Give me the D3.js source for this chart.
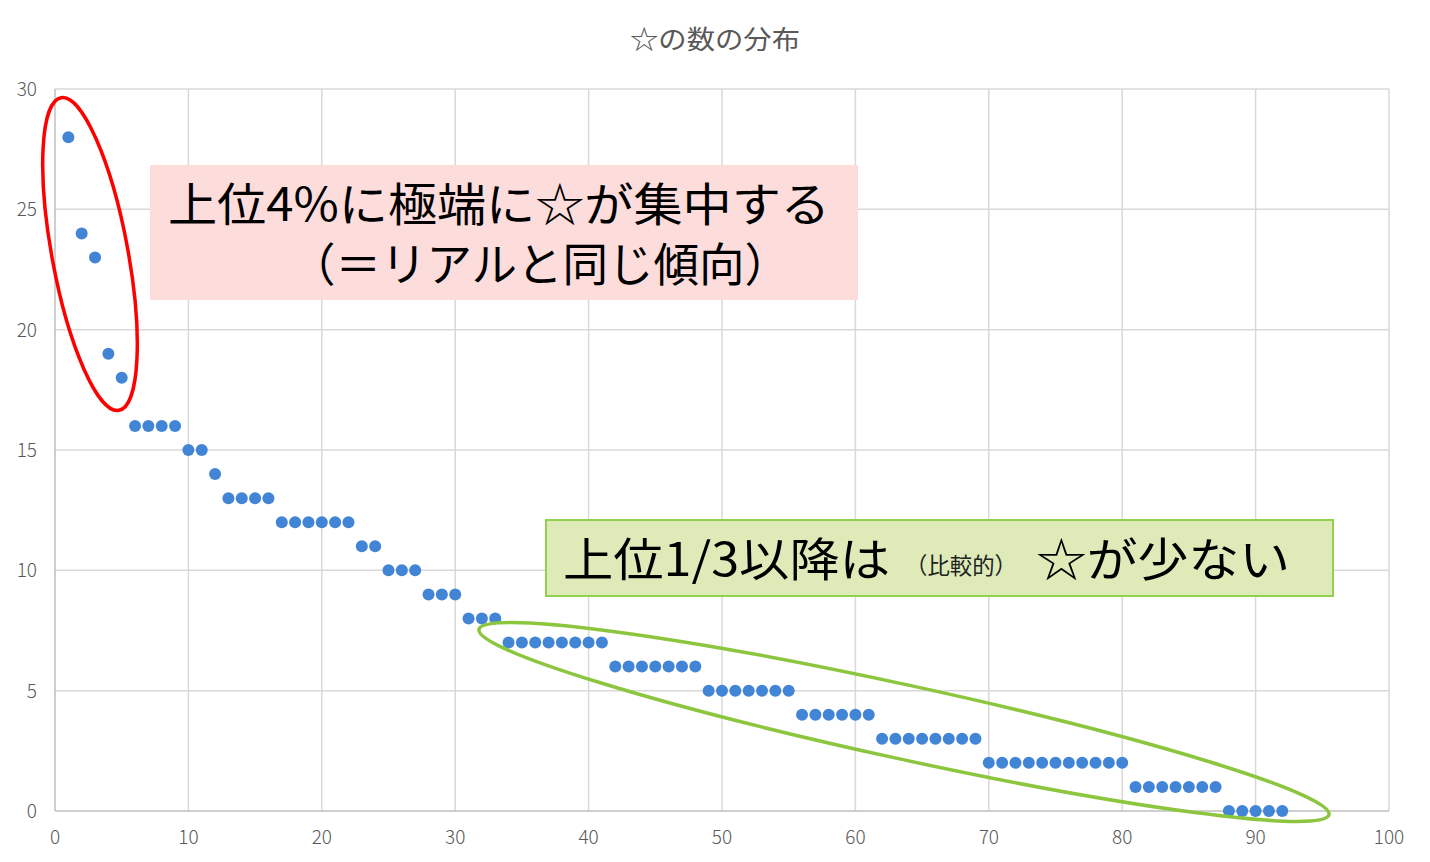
<!DOCTYPE html>
<html><head><meta charset="utf-8">
<script src="https://cdn.jsdelivr.net/npm/d3@7"></script>
<style>
body{margin:0;background:#fff;}
svg{display:block;font-family:"Noto Sans CJK JP","Noto Sans",sans-serif;}
</style></head>
<body>
<svg id="c" width="1430" height="862"></svg>
<script>
const ranks = d3.range(1, 93);
const stars = [28,24,23,19,18,16,16,16,16,15,15,14,13,13,13,13,12,12,12,12,12,12,11,11,10,10,10,9,9,9,8,8,8,
  7,7,7,7,7,7,7,7,6,6,6,6,6,6,6,5,5,5,5,5,5,5,4,4,4,4,4,4,3,3,3,3,3,3,3,3,
  2,2,2,2,2,2,2,2,2,2,2,1,1,1,1,1,1,1,0,0,0,0,0];
const xTicks = [0,10,20,30,40,50,60,70,80,90,100];
const yTicks = [0,5,10,15,20,25,30];
const title = "☆の数の分布";
const note1 = ["上位4%に極端に☆が集中する", "（＝リアルと同じ傾向）"];
const note2 = ["上位1/3以降は", "（比較的）", "☆が少ない"];

const svg = d3.select("#c");
const L=55, R=1389, T=89, B=811;
const x = d3.scaleLinear().domain([0,100]).range([L,R]);
const y = d3.scaleLinear().domain([0,30]).range([B,T]);

svg.append("text").attr("x",630).attr("y",49)
  .attr("font-size",26).attr("fill","#595959")
  .attr("textLength",170).attr("lengthAdjust","spacingAndGlyphs").text(title);

const g = svg.append("g");
g.selectAll(".vg").data(xTicks.slice(1)).join("line")
  .attr("x1",d=>x(d)).attr("x2",d=>x(d)).attr("y1",T).attr("y2",B)
  .attr("stroke","#d9d9d9").attr("stroke-width",1.5);
g.selectAll(".hg").data(yTicks.slice(1)).join("line")
  .attr("x1",L).attr("x2",R).attr("y1",d=>y(d)).attr("y2",d=>y(d))
  .attr("stroke","#d9d9d9").attr("stroke-width",1.5);
g.append("line").attr("x1",L).attr("x2",L).attr("y1",T).attr("y2",B).attr("stroke","#bfbfbf").attr("stroke-width",1.5);
g.append("line").attr("x1",L).attr("x2",R).attr("y1",B).attr("y2",B).attr("stroke","#bfbfbf").attr("stroke-width",1.5);

svg.selectAll(".yl").data(yTicks).join("text")
  .attr("x",37).attr("y",d=>y(d)+7).attr("text-anchor","end")
  .attr("font-size",19).attr("font-weight",300).attr("fill","#595959").text(d=>d);
svg.selectAll(".xl").data(xTicks).join("text")
  .attr("x",d=>x(d)).attr("y",844).attr("text-anchor","middle")
  .attr("font-size",19).attr("font-weight",300).attr("fill","#595959").text(d=>d);

svg.selectAll(".pt").data(ranks).join("circle")
  .attr("cx",d=>x(d)).attr("cy",(d,i)=>y(stars[i])).attr("r",6)
  .attr("fill","#4285d6");

// red ellipse
svg.append("ellipse").attr("cx",0).attr("cy",0).attr("rx",38).attr("ry",159)
  .attr("transform","translate(90,254) rotate(-10.5)")
  .attr("fill","none").attr("stroke","#ff0000").attr("stroke-width",3.5);
// green ellipse
svg.append("ellipse").attr("cx",0).attr("cy",0).attr("rx",435).attr("ry",37)
  .attr("transform","translate(904,722) rotate(12.3)")
  .attr("fill","none").attr("stroke","#8cc63f").attr("stroke-width",3.5);

// pink note
svg.append("rect").attr("x",150).attr("y",165).attr("width",708).attr("height",135).attr("fill","#fddcdc");
svg.append("text").attr("x",168).attr("y",221).attr("font-size",46).attr("fill","#000")
  .attr("textLength",662).attr("lengthAdjust","spacingAndGlyphs").text(note1[0]);
svg.append("text").attr("x",290).attr("y",281).attr("font-size",46).attr("fill","#000")
  .attr("textLength",500).attr("lengthAdjust","spacingAndGlyphs").text(note1[1]);

// green note
svg.append("rect").attr("x",546).attr("y",520).attr("width",787).attr("height",76)
  .attr("fill","#deebb9").attr("stroke","#92d050").attr("stroke-width",2);
svg.append("text").attr("x",563).attr("y",576).attr("font-size",46).attr("fill","#000")
  .attr("textLength",327).attr("lengthAdjust","spacingAndGlyphs").text(note2[0]);
svg.append("text").attr("x",905).attr("y",574).attr("font-size",23).attr("fill","#222")
  .attr("textLength",112).attr("lengthAdjust","spacingAndGlyphs").text(note2[1]);
svg.append("text").attr("x",1036).attr("y",576).attr("font-size",46).attr("fill","#000")
  .attr("textLength",254).attr("lengthAdjust","spacingAndGlyphs").text(note2[2]);
</script>
</body></html>
